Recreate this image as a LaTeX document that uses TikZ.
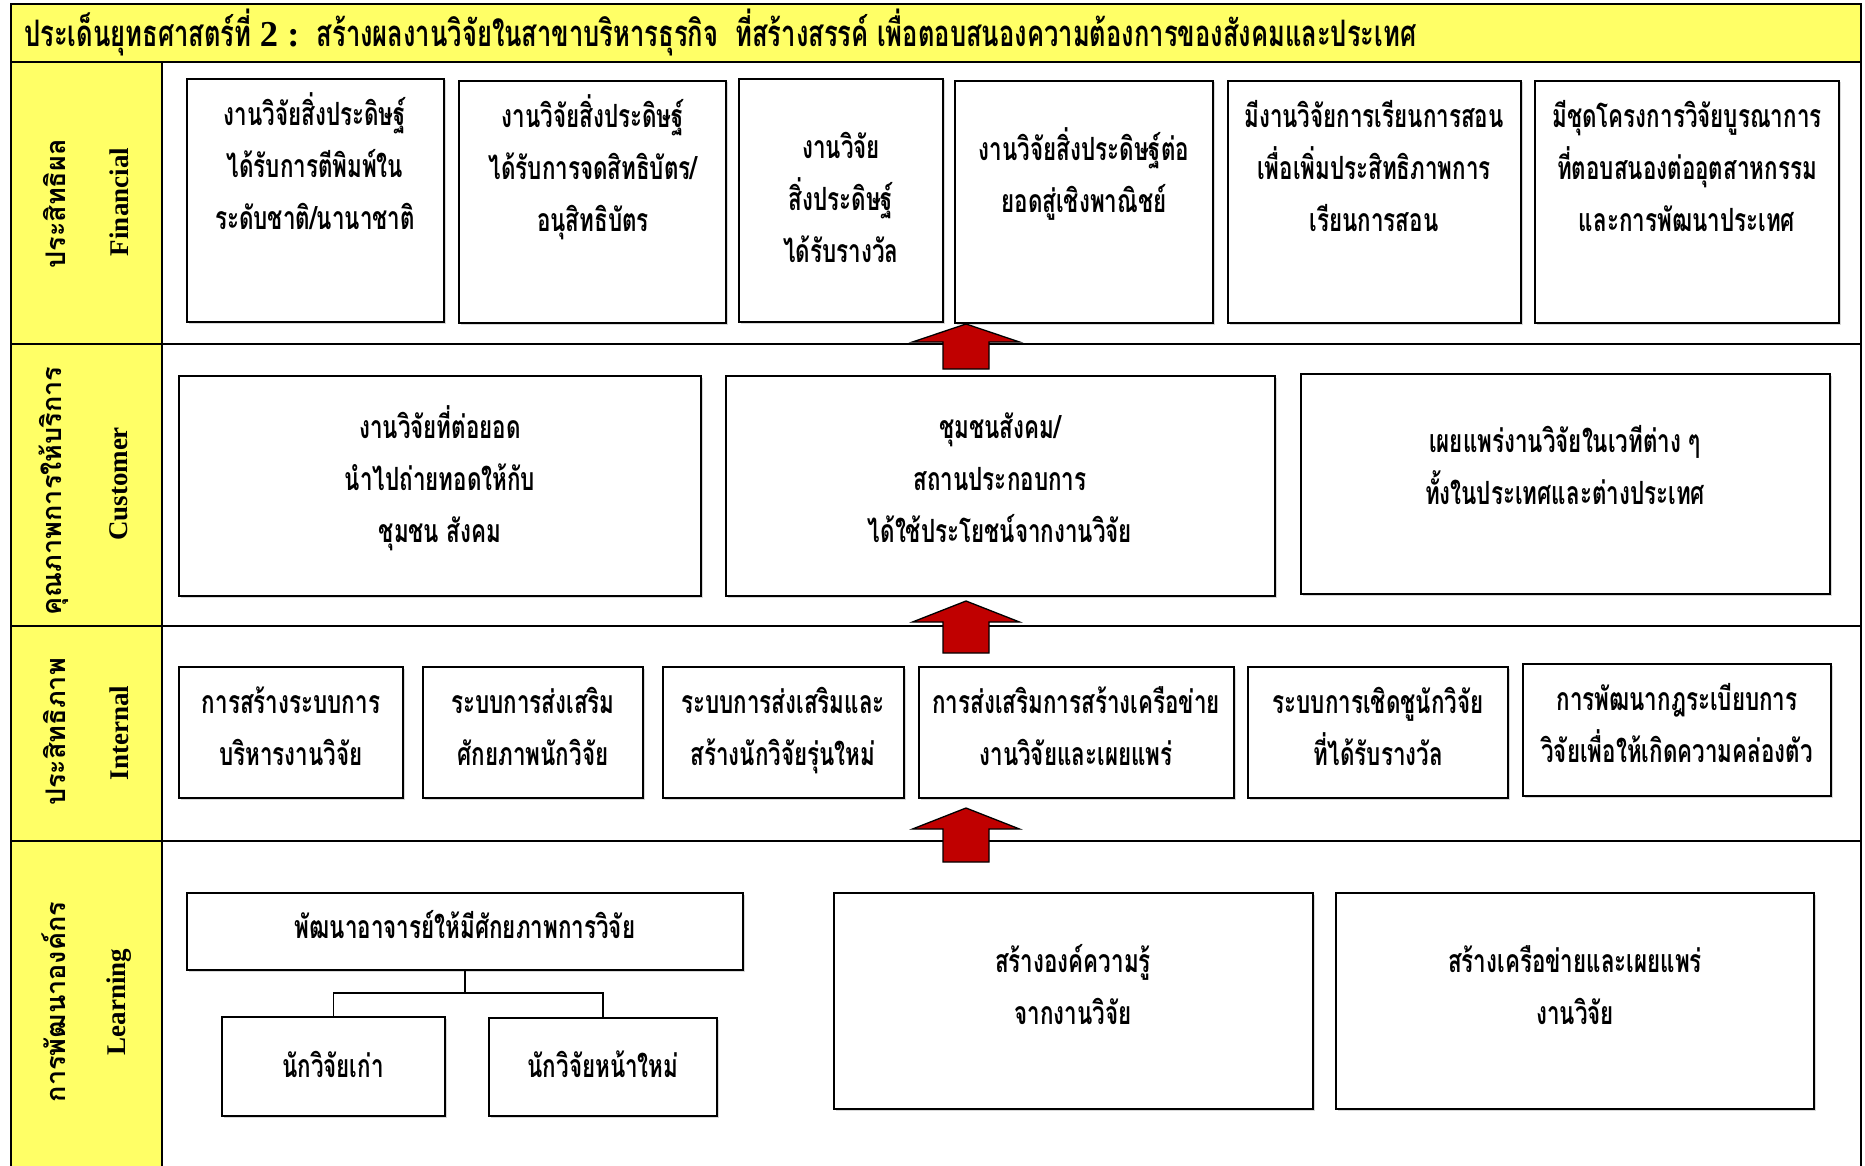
\documentclass[tikz,border=0pt]{standalone}
\usepackage{fontspec}
\setmainfont{Liberation Serif}
\newfontfamily\thaiC[Script=Thai,FakeStretch=0.7]{Loma}
\newfontfamily\thaiL[Script=Thai]{Loma}
\usetikzlibrary{shadows}
\definecolor{bandyellow}{HTML}{FFFF66}
\definecolor{arrowred}{HTML}{C00000}
\tikzset{
  frame/.style={draw=black, line width=2.6pt},
  box/.style={draw=black, line width=1.8pt, fill=white, inner sep=0pt, outer sep=0pt,
    drop shadow={shadow xshift=1.5pt, shadow yshift=-1.5pt, fill=gray!60}},
  tx/.style={font=\thaiC\bfseries\fontsize{32}{52}\selectfont, align=center, inner sep=0pt, anchor=north},
  lblth/.style={font=\thaiL\bfseries\fontsize{27}{30}\selectfont, inner sep=0pt, rotate=90},
  lblen/.style={font=\bfseries\fontsize{27}{30}\selectfont, inner sep=0pt, rotate=90},
  conn/.style={draw=black, line width=1.5pt},
  blk/.style={fill=arrowred, draw=black, line width=1.3pt, line join=miter}
}
\newcommand\mkbox[5]{%
  \pgfmathsetmacro\bw{#4-#2}\pgfmathsetmacro\bh{#5-#3}%
  \node[box, minimum width=\bw pt, minimum height=\bh pt] (#1) at ({(#2+#4)/2},{(#3+#5)/2}) {};}
\newcommand\tnode[4]{\node[tx] (#1) at (#2,{#3-34}) {\rule{0pt}{34pt}#4};}
\newcommand\blkarrow[4]{%
  \filldraw[blk] (#1-53.5,#3) -- (#1,#2) -- (#1+53.5,#3) -- (#1+23,#3) -- (#1+23,#4)
    -- (#1-23,#4) -- (#1-23,#3) -- cycle;}
\begin{document}
\begin{tikzpicture}[x=1pt,y=-1pt]
\useasboundingbox (0,0) rectangle (1865,1166);
% background bands
\fill[white] (0,0) rectangle (1865,1166);
\fill[bandyellow] (11,4) rectangle (1861,62);
\fill[bandyellow] (11,62) rectangle (162,1166);
% title
\node[anchor=base west, font=\thaiC\bfseries\fontsize{36.5}{40}\selectfont, inner sep=0pt] (title) at (24,47)
  {ประเด็นยุทธศาสตร์ที่ {\rmfamily 2 :}\ \ สร้างผลงานวิจัยในสาขาบริหารธุรกิจ\ \ ที่สร้างสรรค์ เพื่อตอบสนองความต้องการของสังคมและประเทศ};
% frame
\draw[frame] (11,1166) -- (11,4) -- (1861,4) -- (1861,1166);
\draw[frame] (11,62) -- (1861,62);
\draw[frame] (11,344) -- (1861,344);
\draw[frame] (11,626) -- (1861,626);
\draw[frame] (11,841) -- (1861,841);
\draw[frame] (162,62) -- (162,1166);
% row labels
\node[lblth] (l1a) at (54,204) {ประสิทธิผล};
\node[lblen] (l1b) at (119,202) {Financial};
\node[lblth] (l2a) at (54,491) {คุณภาพการให้บริการ};
\node[lblen] (l2b) at (119,484) {Customer};
\node[lblth] (l3a) at (54,732) {ประสิทธิภาพ};
\node[lblen] (l3b) at (119,733) {Internal};
\node[lblth] (l4a) at (54,1002) {การพัฒนาองค์กร};
\node[lblen] (l4b) at (119,1002) {Learning};
% row 1 boxes
\mkbox{b1}{187}{79}{444}{322}
\mkbox{b2}{459}{81}{726}{323}
\mkbox{b3}{739}{79}{943}{322}
\mkbox{b4}{955}{81}{1213}{323}
\mkbox{b5}{1228}{81}{1521}{323}
\mkbox{b6}{1535}{81}{1839}{323}
% row 2 boxes
\mkbox{c1}{179}{376}{701}{596}
\mkbox{c2}{726}{376}{1275}{596}
\mkbox{c3}{1301}{374}{1830}{594}
% row 3 boxes
\mkbox{d1}{179}{667}{403}{798}
\mkbox{d2}{423}{667}{643}{798}
\mkbox{d3}{663}{667}{904}{798}
\mkbox{d4}{919}{667}{1234}{798}
\mkbox{d5}{1248}{667}{1508}{798}
\mkbox{d6}{1523}{664}{1831}{796}
% row 4 boxes
\mkbox{etop}{187}{893}{743}{970}
\mkbox{es1}{222}{1017}{445}{1116}
\mkbox{es2}{489}{1018}{717}{1116}
\mkbox{e2}{834}{893}{1313}{1109}
\mkbox{e3}{1336}{893}{1814}{1109}
% connectors
\coordinate (j) at (etop.south |- 0,993);
\draw[conn] (etop.south) -- (j);
\draw[conn] (es1.north) |- (j) -| (es2.north);
% arrows
\blkarrow{966}{324}{342}{369}
\blkarrow{966}{601}{622}{653}
\blkarrow{966}{808}{829}{862}
% texts row 1
\tnode{b1t}{315}{125}{งานวิจัยสิ่งประดิษฐ์\\ได้รับการตีพิมพ์ใน\\ระดับชาติ/นานาชาติ}
\tnode{b2t}{593}{127}{งานวิจัยสิ่งประดิษฐ์\\ได้รับการจดสิทธิบัตร/\\อนุสิทธิบัตร}
\tnode{b3t}{841}{158}{งานวิจัย\\สิ่งประดิษฐ์\\ได้รับรางวัล}
\tnode{b4t}{1084}{160}{งานวิจัยสิ่งประดิษฐ์ต่อ\\ยอดสู่เชิงพาณิชย์}
\tnode{b5t}{1374}{127}{มีงานวิจัยการเรียนการสอน\\เพื่อเพิ่มประสิทธิภาพการ\\เรียนการสอน}
\tnode{b6t}{1687}{127}{มีชุดโครงการวิจัยบูรณาการ\\ที่ตอบสนองต่ออุตสาหกรรม\\และการพัฒนาประเทศ}
% texts row 2
\tnode{c1t}{440}{438}{งานวิจัยที่ต่อยอด\\นำไปถ่ายทอดให้กับ\\ชุมชน สังคม}
\tnode{c2t}{1000}{438}{ชุมชนสังคม/\\สถานประกอบการ\\ได้ใช้ประโยชน์จากงานวิจัย}
\tnode{c3t}{1565}{452}{เผยแพร่งานวิจัยในเวทีต่าง ๆ\\ทั้งในประเทศและต่างประเทศ}
% texts row 3
\tnode{d1t}{291}{713}{การสร้างระบบการ\\บริหารงานวิจัย}
\tnode{d2t}{533}{713}{ระบบการส่งเสริม\\ศักยภาพนักวิจัย}
\tnode{d3t}{783}{713}{ระบบการส่งเสริมและ\\สร้างนักวิจัยรุ่นใหม่}
\tnode{d4t}{1076}{713}{การส่งเสริมการสร้างเครือข่าย\\งานวิจัยและเผยแพร่}
\tnode{d5t}{1378}{713}{ระบบการเชิดชูนักวิจัย\\ที่ได้รับรางวัล}
\tnode{d6t}{1677}{710}{การพัฒนากฎระเบียบการ\\วิจัยเพื่อให้เกิดความคล่องตัว}
% texts row 4
\tnode{etopt}{465}{938}{พัฒนาอาจารย์ให้มีศักยภาพการวิจัย}
\tnode{es1t}{333}{1077}{นักวิจัยเก่า}
\tnode{es2t}{603}{1077}{นักวิจัยหน้าใหม่}
\tnode{e2t}{1073}{972}{สร้างองค์ความรู้\\จากงานวิจัย}
\tnode{e3t}{1575}{972}{สร้างเครือข่ายและเผยแพร่\\งานวิจัย}
\end{tikzpicture}
\end{document}
